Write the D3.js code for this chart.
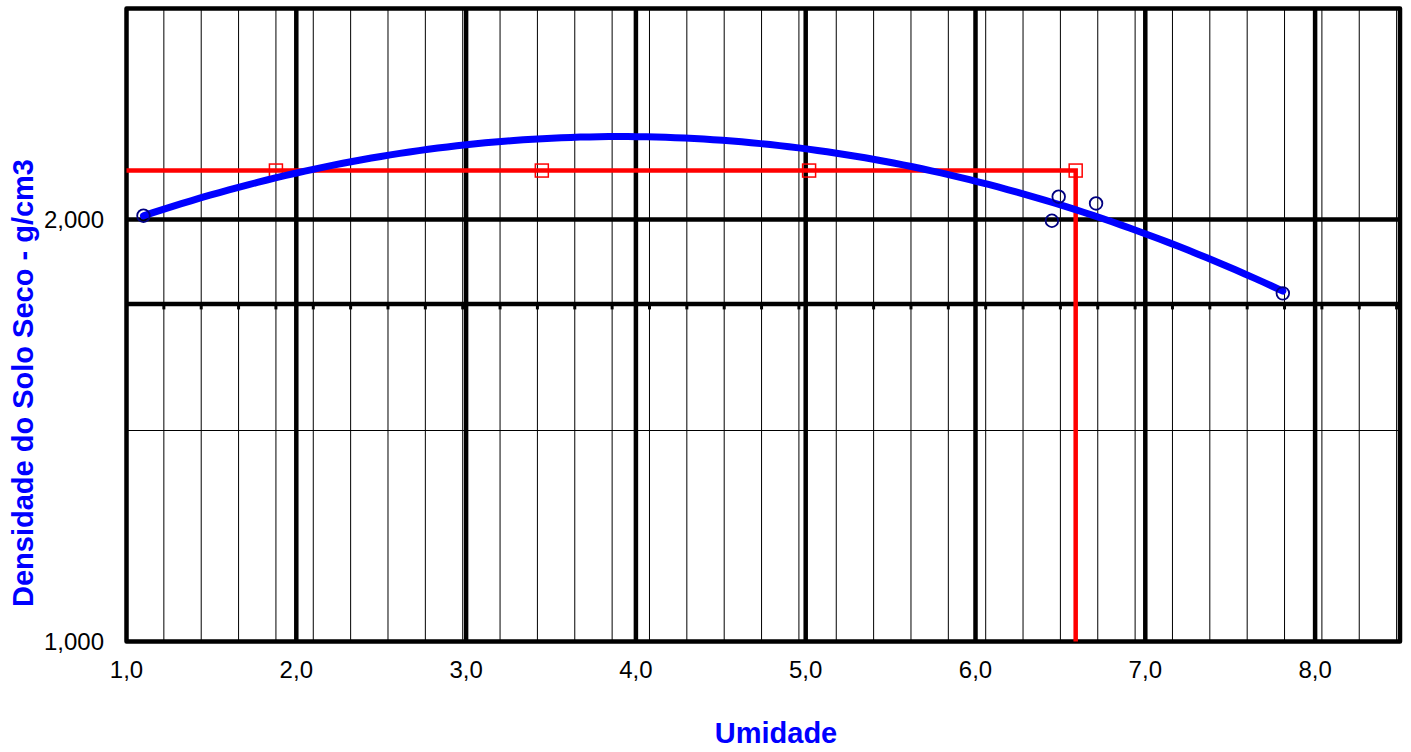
<!DOCTYPE html>
<html>
<head>
<meta charset="utf-8">
<script src="https://cdn.jsdelivr.net/npm/d3@7"></script>
<style>
  body { margin: 0; background: #fff; }
  svg { display: block; }
  text { font-family: "Liberation Sans", Arial, sans-serif; }
</style>
</head>
<body>
<svg id="chart" width="1411" height="752"></svg>
<script>
// ensaio - pontos medidos
const umidade = [1.10, 6.45, 6.49, 6.71, 7.81]
const densidade = [2.009, 1.997, 2.054, 2.038, 1.825]

// linha vermelha de referencia
const refLineX = [1.0, 6.59, 6.59]
const refLineY = [2.116, 2.116, 1.0]
const refMarkX = [1.88, 3.446, 5.02, 6.59]
const refMarkY = [2.116, 2.116, 2.116, 2.116]

// eixos
const xTicks = [1, 2, 3, 4, 5, 6, 7, 8]
const yTicks = [1.0, 2.0]
const yThickLines = [1.8, 2.0]
const yThinLines = [1.5]
const xMinorStep = 0.22

const width = 1411, height = 752
const svg = d3.select("#chart")

const x = d3.scaleLinear().domain([1, 8.5]).range([126.5, 1400])
const y = d3.scaleLinear().domain([1, 2.5]).range([641.5, 8.5])

const br = d3.formatLocale({ decimal: ",", thousands: ".", grouping: [3], currency: ["R$", ""] })
const fmtX = br.format(".1f")
const fmtY = br.format(".3f")

const minorX = d3.range(1, 35).map(k => 1 + k * xMinorStep).filter(v => v < 8.5)

const grid = svg.append("g")

// linhas finas verticais
grid.selectAll("line.minor-x")
  .data(minorX)
  .enter().append("line")
  .attr("x1", d => x(d)).attr("x2", d => x(d))
  .attr("y1", y(2.5)).attr("y2", y(1))
  .attr("stroke", "#000")
  .attr("stroke-width", 1)

grid.selectAll("line.thin-y")
  .data(yThinLines)
  .enter().append("line")
  .attr("x1", x(1)).attr("x2", x(8.5))
  .attr("y1", d => y(d)).attr("y2", d => y(d))
  .attr("stroke", "#000")
  .attr("stroke-width", 1)

// marcas pequenas na linha de 1,8
grid.selectAll("line.mark")
  .data(minorX)
  .enter().append("line")
  .attr("x1", d => x(d)).attr("x2", d => x(d))
  .attr("y1", y(1.8)).attr("y2", y(1.8) + 5.5)
  .attr("stroke", "#000")
  .attr("stroke-width", 3)

grid.selectAll("line.major-x")
  .data(xTicks.slice(1))
  .enter().append("line")
  .attr("x1", d => x(d)).attr("x2", d => x(d))
  .attr("y1", y(2.5)).attr("y2", y(1))
  .attr("stroke", "#000")
  .attr("stroke-width", 4.5)

grid.selectAll("line.major-y")
  .data(yThickLines)
  .enter().append("line")
  .attr("x1", x(1)).attr("x2", x(8.5))
  .attr("y1", d => y(d)).attr("y2", d => y(d))
  .attr("stroke", "#000")
  .attr("stroke-width", 4.5)

grid.append("rect")
  .attr("x", x(1)).attr("y", y(2.5))
  .attr("width", x(8.5) - x(1)).attr("height", y(1) - y(2.5))
  .attr("fill", "none")
  .attr("stroke", "#000")
  .attr("stroke-width", 4.5)
  .attr("stroke-linejoin", "round")

// rotulos dos eixos
svg.append("g").selectAll("text")
  .data(xTicks)
  .enter().append("text")
  .attr("x", d => x(d))
  .attr("y", 678)
  .attr("text-anchor", "middle")
  .attr("font-size", 24)
  .text(d => fmtX(d))

svg.append("g").selectAll("text")
  .data(yTicks)
  .enter().append("text")
  .attr("x", 104)
  .attr("y", d => y(d))
  .attr("dy", "0.36em")
  .attr("text-anchor", "end")
  .attr("font-size", 24)
  .text(d => fmtY(d))

svg.append("text")
  .attr("x", 776)
  .attr("y", 743)
  .attr("text-anchor", "middle")
  .attr("font-size", 29)
  .attr("font-weight", "bold")
  .attr("fill", "#0000ff")
  .text("Umidade")

svg.append("text")
  .attr("transform", "translate(33,383) rotate(-90)")
  .attr("text-anchor", "middle")
  .attr("font-size", 29)
  .attr("font-weight", "bold")
  .attr("fill", "#0000ff")
  .text("Densidade do Solo Seco - g/cm3")

// linha vermelha
const line = d3.line().x(d => x(d[0])).y(d => y(d[1]))

svg.append("path")
  .attr("d", line(d3.zip(refLineX, refLineY)))
  .attr("fill", "none")
  .attr("stroke", "#ff0000")
  .attr("stroke-width", 4.5)

svg.append("g").selectAll("rect")
  .data(d3.zip(refMarkX, refMarkY))
  .enter().append("rect")
  .attr("x", d => x(d[0]) - 6.5)
  .attr("y", d => y(d[1]) - 6.5)
  .attr("width", 13).attr("height", 13)
  .attr("fill", "none")
  .attr("stroke", "#ff0000")
  .attr("stroke-width", 1.5)

// curva de compactacao: tendencia polinomial de 2a ordem (minimos quadrados)
function polyFit2(xs, ys) {
  const S = k => d3.sum(xs, v => Math.pow(v, k))
  const T = k => d3.sum(xs, (v, i) => Math.pow(v, k) * ys[i])
  const A = [
    [S(0), S(1), S(2), T(0)],
    [S(1), S(2), S(3), T(1)],
    [S(2), S(3), S(4), T(2)]
  ]
  for (let i = 0; i < 3; i++) {
    for (let j = i + 1; j < 3; j++) {
      const f = A[j][i] / A[i][i]
      for (let k = i; k < 4; k++) A[j][k] -= f * A[i][k]
    }
  }
  const c = [0, 0, 0]
  for (let i = 2; i >= 0; i--) {
    let s = A[i][3]
    for (let k = i + 1; k < 3; k++) s -= A[i][k] * c[k]
    c[i] = s / A[i][i]
  }
  return c
}

const coef = polyFit2(umidade, densidade)
const [xMin, xMax] = d3.extent(umidade)
const trend = d3.range(0, 121).map(i => {
  const u = xMin + (xMax - xMin) * i / 120
  return [u, coef[0] + coef[1] * u + coef[2] * u * u]
})

svg.append("path")
  .attr("d", line(trend))
  .attr("fill", "none")
  .attr("stroke", "#0000ff")
  .attr("stroke-width", 7)
  .attr("stroke-linecap", "round")

svg.append("g").selectAll("circle")
  .data(d3.zip(umidade, densidade))
  .enter().append("circle")
  .attr("cx", d => x(d[0]))
  .attr("cy", d => y(d[1]))
  .attr("r", 6.3)
  .attr("fill", "none")
  .attr("stroke", "#000080")
  .attr("stroke-width", 1.8)
</script>
</body>
</html>
